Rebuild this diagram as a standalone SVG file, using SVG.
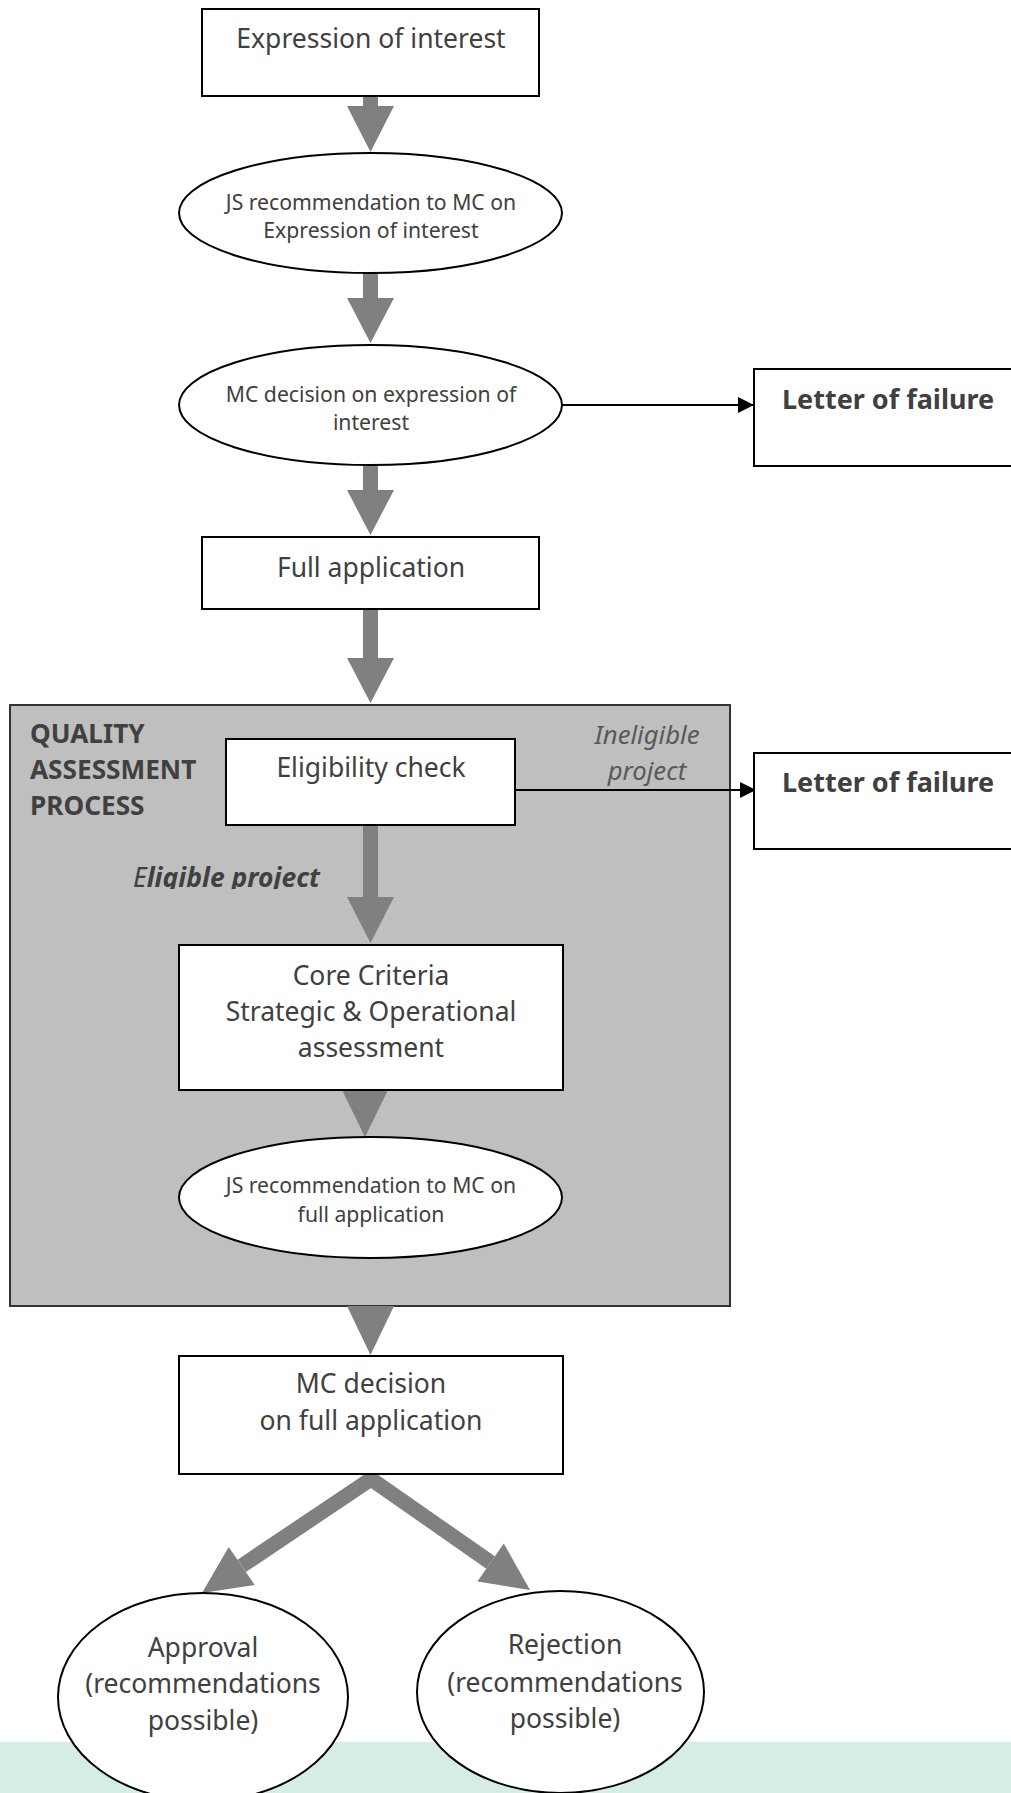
<svg xmlns="http://www.w3.org/2000/svg" width="1011" height="1793" viewBox="0 0 1011 1793">
<style>
text{font-family:"Noto Sans","Open Sans","Liberation Sans",sans-serif;fill:#404040;text-anchor:middle}
.box{fill:#fff;stroke:#000;stroke-width:2}
.el{fill:#fff;stroke:#000;stroke-width:2}
.t24{font-size:26.5px}
.t20{font-size:21.2px}
.b{font-weight:bold}
.lbl{font-size:27px;font-weight:bold;text-anchor:start}
.it{font-style:italic;fill:#595959;font-size:25.7px}
.ga{fill:#808080}
.thin{stroke:#000;stroke-width:2;fill:none;marker-end:url(#ah)}
</style>
<defs>
<marker id="ah" viewBox="0 0 16 16" refX="16" refY="8" markerWidth="16" markerHeight="16" markerUnits="userSpaceOnUse" orient="auto">
<path d="M0,0 L16,8 L0,16 Z" fill="#000"/>
</marker>
<clipPath id="clipE"><rect x="0" y="850" width="400" height="39"/></clipPath>
</defs>
<rect x="0" y="1742" width="1011" height="51" fill="#d6ece7"/>
<g id="qa-process">
<rect x="10" y="705" width="720" height="601" fill="#bfbfbf" stroke="#333" stroke-width="2"/>
<text class="b" x="30" y="743" style="text-anchor:start;font-size:26.2px">QUALITY</text>
<text class="b" x="30" y="779" style="text-anchor:start;font-size:26.2px">ASSESSMENT</text>
<text class="b" x="30" y="815" style="text-anchor:start;font-size:26.2px">PROCESS</text>
<text class="it" x="647" y="744">Ineligible</text>
<text class="it" x="647" y="780">project</text>
<text x="133" y="887" clip-path="url(#clipE)" style="text-anchor:start;font-size:26.5px;font-style:italic"><tspan>E</tspan><tspan font-weight="bold">ligible project</tspan></text>
</g>
<g id="connectors">
<path class="ga" d="M363,81 H378 V106 H394 L370.5,152 L347,106 H363 Z"/>
<path class="ga" d="M363,273 H378 V298 H394 L370.5,343 L347,298 H363 Z"/>
<path class="ga" d="M363,466 H378 V490 H394 L370.5,535 L347,490 H363 Z"/>
<path class="ga" d="M363,609 H378 V658 H394 L370.5,703 L347,658 H363 Z"/>
<path class="ga" d="M363,825 H378 V897 H394 L370.5,943 L347,897 H363 Z"/>
<path class="ga" d="M342,1090 H388 L365,1137 Z"/>
<path class="ga" d="M347,1306 H394 L370.5,1355 Z"/>
<polyline points="241.7,1565.9 371,1479 490.6,1562.5" fill="none" stroke="#808080" stroke-width="15" stroke-linejoin="miter"/>
<path class="ga" d="M202,1593 L254.7,1585 L228.7,1546.9 Z"/>
<path class="ga" d="M530,1590 L503.8,1543.6 L477.4,1581.4 Z"/>
<line class="thin" x1="562" y1="405" x2="754" y2="405"/>
<line class="thin" x1="515" y1="790" x2="756" y2="790"/>
</g>
<g id="expression-of-interest">
<rect class="box" x="202" y="9" width="337" height="87"/>
<text class="t24" x="371" y="48">Expression of interest</text>
</g>
<g id="js-recommendation-eoi">
<ellipse class="el" cx="370.5" cy="213" rx="191.5" ry="60"/>
<text class="t20" x="371" y="210">JS recommendation to MC on</text>
<text class="t20" x="371" y="238">Expression of interest</text>
</g>
<g id="mc-decision-eoi">
<ellipse class="el" cx="370.5" cy="405" rx="191.5" ry="60"/>
<text class="t20" x="371" y="402">MC decision on expression of</text>
<text class="t20" x="371" y="430">interest</text>
</g>
<g id="letter-of-failure-1">
<rect class="box" x="754" y="369" width="270" height="97"/>
<text class="lbl" x="782" y="409">Letter of failure</text>
</g>
<g id="full-application">
<rect class="box" x="202" y="537" width="337" height="72"/>
<text class="t24" x="371" y="577">Full application</text>
</g>
<g id="eligibility-check">
<rect class="box" x="226" y="739" width="289" height="86"/>
<text class="t24" x="371" y="777">Eligibility check</text>
</g>
<g id="letter-of-failure-2">
<rect class="box" x="754" y="753" width="270" height="96"/>
<text class="lbl" x="782" y="792">Letter of failure</text>
</g>
<g id="core-criteria">
<rect class="box" x="179" y="945" width="384" height="145"/>
<text class="t24" x="371" y="985">Core Criteria</text>
<text class="t24" x="371" y="1021">Strategic &amp; Operational</text>
<text class="t24" x="371" y="1057">assessment</text>
</g>
<g id="js-recommendation-full">
<ellipse class="el" cx="370.5" cy="1197.5" rx="191.5" ry="60.5"/>
<text class="t20" x="371" y="1193">JS recommendation to MC on</text>
<text class="t20" x="371" y="1222">full application</text>
</g>
<g id="mc-decision-full">
<rect class="box" x="179" y="1356" width="384" height="118"/>
<text class="t24" x="371" y="1393">MC decision</text>
<text class="t24" x="371" y="1430">on full application</text>
</g>
<g id="approval">
<ellipse class="el" cx="203" cy="1697" rx="145" ry="104"/>
<text class="t24" x="203" y="1657">Approval</text>
<text class="t24" x="203" y="1693">(recommendations</text>
<text class="t24" x="203" y="1730">possible)</text>
</g>
<g id="rejection">
<ellipse class="el" cx="560.5" cy="1692" rx="143.5" ry="101"/>
<text class="t24" x="565" y="1654">Rejection</text>
<text class="t24" x="565" y="1692">(recommendations</text>
<text class="t24" x="565" y="1728">possible)</text>
</g>
</svg>
